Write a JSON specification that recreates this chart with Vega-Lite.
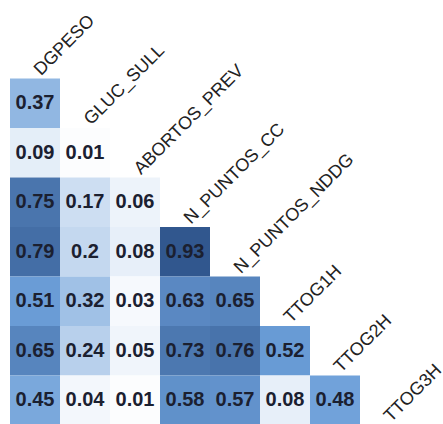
{
  "$schema": "https://vega.github.io/schema/vega-lite/v6.json",
  "width": 400,
  "height": 396,
  "autosize": {"type": "none"},
  "padding": {"left": 10, "top": 29, "right": 33, "bottom": 0},
  "background": "#ffffff",
  "config": {"view": {"stroke": null}},
  "datasets": {
    "corr": [
      {"col": "DGPESO", "row": "GLUC_SULL", "r": 0.37},
      {"col": "DGPESO", "row": "ABORTOS_PREV", "r": 0.09},
      {"col": "GLUC_SULL", "row": "ABORTOS_PREV", "r": 0.01},
      {"col": "DGPESO", "row": "N_PUNTOS_CC", "r": 0.75},
      {"col": "GLUC_SULL", "row": "N_PUNTOS_CC", "r": 0.17},
      {"col": "ABORTOS_PREV", "row": "N_PUNTOS_CC", "r": 0.06},
      {"col": "DGPESO", "row": "N_PUNTOS_NDDG", "r": 0.79},
      {"col": "GLUC_SULL", "row": "N_PUNTOS_NDDG", "r": 0.2},
      {"col": "ABORTOS_PREV", "row": "N_PUNTOS_NDDG", "r": 0.08},
      {"col": "N_PUNTOS_CC", "row": "N_PUNTOS_NDDG", "r": 0.93},
      {"col": "DGPESO", "row": "TTOG1H", "r": 0.51},
      {"col": "GLUC_SULL", "row": "TTOG1H", "r": 0.32},
      {"col": "ABORTOS_PREV", "row": "TTOG1H", "r": 0.03},
      {"col": "N_PUNTOS_CC", "row": "TTOG1H", "r": 0.63},
      {"col": "N_PUNTOS_NDDG", "row": "TTOG1H", "r": 0.65},
      {"col": "DGPESO", "row": "TTOG2H", "r": 0.65},
      {"col": "GLUC_SULL", "row": "TTOG2H", "r": 0.24},
      {"col": "ABORTOS_PREV", "row": "TTOG2H", "r": 0.05},
      {"col": "N_PUNTOS_CC", "row": "TTOG2H", "r": 0.73},
      {"col": "N_PUNTOS_NDDG", "row": "TTOG2H", "r": 0.76},
      {"col": "TTOG1H", "row": "TTOG2H", "r": 0.52},
      {"col": "DGPESO", "row": "TTOG3H", "r": 0.45},
      {"col": "GLUC_SULL", "row": "TTOG3H", "r": 0.04},
      {"col": "ABORTOS_PREV", "row": "TTOG3H", "r": 0.01},
      {"col": "N_PUNTOS_CC", "row": "TTOG3H", "r": 0.58},
      {"col": "N_PUNTOS_NDDG", "row": "TTOG3H", "r": 0.57},
      {"col": "TTOG1H", "row": "TTOG3H", "r": 0.08},
      {"col": "TTOG2H", "row": "TTOG3H", "r": 0.48}
    ],
    "vars": [
      {"name": "DGPESO"},
      {"name": "GLUC_SULL"},
      {"name": "ABORTOS_PREV"},
      {"name": "N_PUNTOS_CC"},
      {"name": "N_PUNTOS_NDDG"},
      {"name": "TTOG1H"},
      {"name": "TTOG2H"},
      {"name": "TTOG3H"}
    ]
  },
  "layer": [
    {
      "data": {"name": "corr"},
      "mark": {"type": "rect"},
      "encoding": {
        "x": {"field": "col", "type": "nominal", "axis": null,
              "scale": {"domain": ["DGPESO", "GLUC_SULL", "ABORTOS_PREV", "N_PUNTOS_CC", "N_PUNTOS_NDDG", "TTOG1H", "TTOG2H", "TTOG3H"], "paddingInner": 0, "paddingOuter": 0}},
        "y": {"field": "row", "type": "nominal", "axis": null,
              "scale": {"domain": ["DGPESO", "GLUC_SULL", "ABORTOS_PREV", "N_PUNTOS_CC", "N_PUNTOS_NDDG", "TTOG1H", "TTOG2H", "TTOG3H"], "paddingInner": 0, "paddingOuter": 0}},
        "color": {"field": "r", "type": "quantitative", "legend": null,
                  "scale": {"domain": [0, 0.5, 1], "range": ["#ffffff", "#6b9ed8", "#284b82"], "interpolate": "rgb"}}
      }
    },
    {
      "data": {"name": "corr"},
      "mark": {"type": "text", "font": "Liberation Sans", "fontSize": 20, "fontWeight": "bold", "color": "#1b2030"},
      "encoding": {
        "x": {"field": "col", "type": "nominal"},
        "y": {"field": "row", "type": "nominal"},
        "text": {"field": "r", "type": "quantitative"}
      }
    },
    {
      "data": {"name": "vars"},
      "mark": {"type": "text", "font": "Liberation Sans", "fontSize": 18, "color": "#222222", "angle": -45, "align": "left", "baseline": "alphabetic", "dx": -11.7, "dy": 20.2},
      "encoding": {
        "x": {"field": "name", "type": "nominal"},
        "y": {"field": "name", "type": "nominal"},
        "text": {"field": "name", "type": "nominal"}
      }
    }
  ]
}
